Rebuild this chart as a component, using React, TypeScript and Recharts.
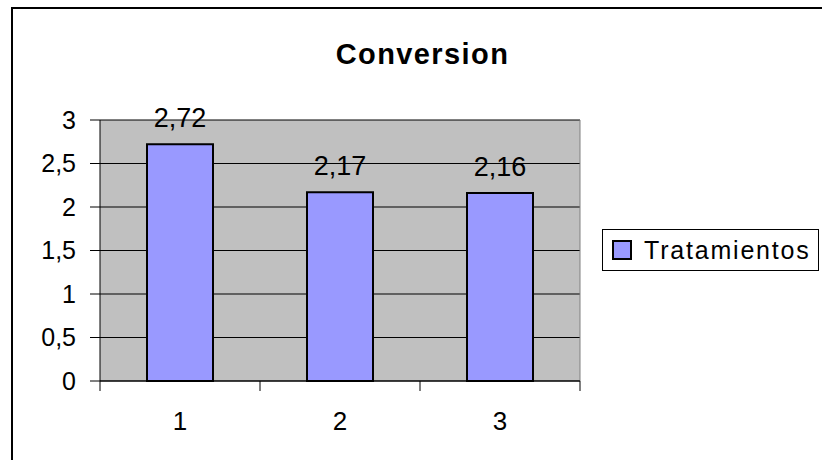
import React from "react";
import { BarChart, Bar, XAxis, YAxis, CartesianGrid, Legend, LabelList } from "recharts";

const categories = ["1", "2", "3"];
const tratamientos = [2.72, 2.17, 2.16];
const yTicks = [0, 0.5, 1, 1.5, 2, 2.5, 3];

const data = categories.map((name, i) => ({ name, tratamientos: tratamientos[i] }));

const FONT = "'Liberation Sans', Arial, sans-serif";
const comma = (v: number | string) => String(v).replace(".", ",");

const TICK_LEN = 10;
const LABEL_GAP = 21;

// category label centred in the band, tick marks on the band edges
function CategoryTick(props: any) {
  const { x, y, payload, index, visibleTicksCount } = props;
  const half = payload.offset ?? 0;
  const axisY = y - TICK_LEN - LABEL_GAP;
  const last = index === visibleTicksCount - 1;
  return (
    <g>
      <line x1={x - half} x2={x - half} y1={axisY} y2={axisY + TICK_LEN} stroke="#000" />
      {last && <line x1={x + half} x2={x + half} y1={axisY} y2={axisY + TICK_LEN} stroke="#000" />}
      <text x={x} y={y} dy="0.71em" textAnchor="middle" fill="#000" fontSize={26} fontFamily={FONT}>
        {payload.value}
      </text>
    </g>
  );
}

function LegendBox() {
  return (
    <div
      style={{
        width: 217,
        height: 42,
        border: "1px solid #000",
        background: "#fff",
        display: "flex",
        alignItems: "center",
        boxSizing: "border-box",
        fontFamily: FONT,
        fontSize: 25,
        letterSpacing: 1.8,
        color: "#000",
      }}
    >
      <span
        style={{
          width: 16,
          height: 16,
          margin: "0 12px 0 9px",
          background: "#9999FF",
          border: "2px solid #000",
        }}
      />
      Tratamientos
    </div>
  );
}

export default function App() {
  return (
    <div style={{ position: "relative", width: 822, height: 460, overflow: "hidden", background: "#fff", fontFamily: FONT }}>
      <style>{"body{margin:0}"}</style>
      <div
        style={{
          position: "absolute",
          left: 11,
          top: 7,
          width: 900,
          height: 600,
          borderLeft: "2px solid #000",
          borderTop: "2px solid #000",
        }}
      />
      <div
        style={{
          position: "absolute",
          left: 0,
          top: 38,
          width: 845,
          textAlign: "center",
          fontSize: 29,
          fontWeight: "bold",
          letterSpacing: 1.4,
        }}
      >
        Conversion
      </div>
      <div style={{ position: "absolute", left: 0, top: 0 }}>
        <BarChart width={822} height={460} data={data} margin={{ top: 120, right: 242, left: 0, bottom: 0 }}>
          <CartesianGrid vertical={false} stroke="#000" fill="#C0C0C0" fillOpacity={1} />
          <CartesianGrid
            horizontal={false}
            stroke="#808080"
            verticalCoordinatesGenerator={({ offset }: any) => [offset.left + offset.width]}
          />
          <XAxis
            dataKey="name"
            height={79}
            axisLine={{ stroke: "#000" }}
            tickLine={false}
            tickSize={TICK_LEN}
            tickMargin={LABEL_GAP}
            tick={<CategoryTick />}
          />
          <YAxis
            width={100}
            domain={[0, 3]}
            ticks={yTicks}
            tickFormatter={comma}
            tickSize={10}
            tickMargin={14}
            axisLine={{ stroke: "#000" }}
            tickLine={{ stroke: "#000" }}
            tick={{ fill: "#000", fontSize: 25, fontFamily: FONT }}
          />
          <Legend
            layout="horizontal"
            align="center"
            verticalAlign="middle"
            wrapperStyle={{ left: 602, top: 229, width: 217 }}
            content={() => <LegendBox />}
          />
          <Bar
            dataKey="tratamientos"
            fill="#9999FF"
            stroke="#000"
            strokeWidth={2}
            barSize={66}
            isAnimationActive={false}
          >
            <LabelList
              dataKey="tratamientos"
              position="top"
              offset={17}
              formatter={comma}
              style={{ fill: "#000", fontSize: 27, fontFamily: FONT }}
            />
          </Bar>
        </BarChart>
      </div>
    </div>
  );
}
